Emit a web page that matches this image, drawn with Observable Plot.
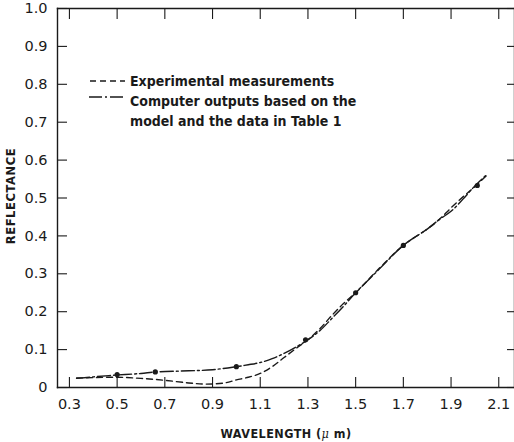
<!DOCTYPE html>
<html>
<head>
<meta charset="utf-8">
<script src="https://cdn.jsdelivr.net/npm/d3@7"></script>
<script src="https://cdn.jsdelivr.net/npm/@observablehq/plot@0.6"></script>
<style>
  html, body { margin: 0; padding: 0; background: #fff; }
  #wrap { position: relative; width: 514px; height: 442px; overflow: hidden;
          font-family: "DejaVu Sans", sans-serif; color: #1a1a1a; }
  .lbl { position: absolute; font-weight: bold; white-space: nowrap; }
  #legend { position: absolute; left: 89px; top: 71px; font-weight: bold; font-size: 14px; line-height: 20px; }
  #legend .row { display: flex; align-items: flex-start; }
  #legend svg { flex: none; margin-right: 5px; }
  #legend span { display: inline-block; transform: scaleX(0.9); transform-origin: left center; white-space: nowrap; }
</style>
</head>
<body>
<div id="wrap">
  <div id="chart"></div>
  <div class="lbl" id="ytitle" style="font-size:11.5px; letter-spacing:0.6px; left:11px; top:196px; transform: translate(-50%,-50%) rotate(-90deg);">REFLECTANCE</div>
  <div class="lbl" id="xtitle" style="font-size:12.5px; letter-spacing:0.5px; left:286px; top:433px; transform: translate(-50%,-50%) scaleX(0.9);">WAVELENGTH (<span style="font-family:'DejaVu Serif',serif;font-style:italic;font-weight:normal;">μ</span> m)</div>
  <div id="legend">
    <div class="row"><svg width="36" height="20"><line x1="1" y1="10" x2="36" y2="10" stroke="#1a1a1a" stroke-width="1.4" stroke-dasharray="6,4"/></svg><span>Experimental measurements</span></div>
    <div class="row"><svg width="36" height="20"><line x1="0" y1="6" x2="36" y2="6" stroke="#1a1a1a" stroke-width="1.4" stroke-dasharray="13,3,2,3"/></svg><span>Computer outputs based on the<br>model and the data in Table 1</span></div>
  </div>
</div>
<script>
// Tick values
const xTicks = [0.3, 0.5, 0.7, 0.9, 1.1, 1.3, 1.5, 1.7, 1.9, 2.1];
const yTicks = [0, 0.1, 0.2, 0.3, 0.4, 0.5, 0.6, 0.7, 0.8, 0.9, 1.0];

// Experimental measurements (dashed)
const expWave = [0.33, 0.4, 0.5, 0.6, 0.7, 0.8, 0.87, 0.95, 1.0, 1.05, 1.1, 1.15, 1.2, 1.25, 1.3, 1.35, 1.4, 1.45, 1.5, 1.6, 1.7, 1.8, 1.85, 1.9, 1.95, 2.0, 2.05];
const expRefl = [0.025, 0.026, 0.027, 0.024, 0.019, 0.012, 0.009, 0.012, 0.02, 0.027, 0.037, 0.055, 0.079, 0.103, 0.126, 0.155, 0.19, 0.222, 0.25, 0.315, 0.375, 0.418, 0.443, 0.474, 0.503, 0.53, 0.56];

// Computer outputs (dash-dot)
const modWave = [0.33, 0.4, 0.5, 0.6, 0.66, 0.8, 0.9, 1.0, 1.05, 1.1, 1.15, 1.2, 1.25, 1.3, 1.35, 1.4, 1.45, 1.5, 1.6, 1.7, 1.8, 1.85, 1.9, 1.95, 2.0, 2.05];
const modRefl = [0.024, 0.028, 0.033, 0.037, 0.041, 0.044, 0.047, 0.055, 0.06, 0.066, 0.076, 0.09, 0.107, 0.126, 0.15, 0.182, 0.215, 0.25, 0.313, 0.375, 0.418, 0.443, 0.465, 0.497, 0.532, 0.562];

// Computed points (dots)
const dotWave = [0.5, 0.66, 1.0, 1.29, 1.5, 1.7, 2.01];
const dotRefl = [0.034, 0.041, 0.055, 0.126, 0.25, 0.375, 0.533];

const expData = expWave.map((w, i) => ({w, r: expRefl[i]}));
const modData = modWave.map((w, i) => ({w, r: modRefl[i]}));
const dotData = dotWave.map((w, i) => ({w, r: dotRefl[i]}));

const ink = "#1a1a1a";
const fmtX = d => d.toFixed(1);
const fmtY = d => d === 0 ? "0" : d.toFixed(1);

const chart = Plot.plot({
  width: 514,
  height: 442,
  marginLeft: 57,
  marginRight: 0,
  marginTop: 8,
  marginBottom: 55,
  style: {fontFamily: '"DejaVu Sans", sans-serif', fontSize: "14.5px", color: ink, background: "#fff"},
  x: {domain: [0.25, 2.166], label: null},
  y: {domain: [0, 1], label: null},
  marks: [
    Plot.frame({anchor: "top", stroke: ink, strokeWidth: 1.4}),
    Plot.frame({anchor: "left", stroke: ink, strokeWidth: 1.4}),
    Plot.frame({anchor: "bottom", stroke: ink, strokeWidth: 1.4}),
    Plot.frame({anchor: "right", stroke: ink, strokeWidth: 1.4}),
    Plot.axisX(xTicks, {anchor: "bottom", tickSize: -10, tickFormat: () => "", label: null, stroke: ink, strokeWidth: 1.1}),
    Plot.axisX(xTicks, {anchor: "top", tickSize: -10, tickFormat: () => "", label: null, stroke: ink, strokeWidth: 1.1}),
    Plot.axisX(xTicks, {anchor: "bottom", tickSize: 0, tickPadding: 11, tickFormat: fmtX, label: null, fill: ink}),
    Plot.axisY(yTicks, {anchor: "left", tickSize: -10, tickFormat: () => "", label: null, stroke: ink, strokeWidth: 1.1}),
    Plot.axisY(yTicks, {anchor: "right", tickSize: -8, tickFormat: () => "", label: null, stroke: ink, strokeWidth: 1.1}),
    Plot.axisY(yTicks, {anchor: "left", tickSize: 0, tickPadding: 10, tickFormat: fmtY, label: null, fill: ink}),
    Plot.line(expData, {x: "w", y: "r", curve: "catmull-rom", stroke: ink, strokeWidth: 1.4, strokeDasharray: "6,4"}),
    Plot.line(modData, {x: "w", y: "r", curve: "catmull-rom", stroke: ink, strokeWidth: 1.4, strokeDasharray: "13,3,2,3"}),
    Plot.dot(dotData, {x: "w", y: "r", r: 2.6, fill: ink, stroke: "none"})
  ]
});
document.getElementById("chart").appendChild(chart);
</script>
</body>
</html>
